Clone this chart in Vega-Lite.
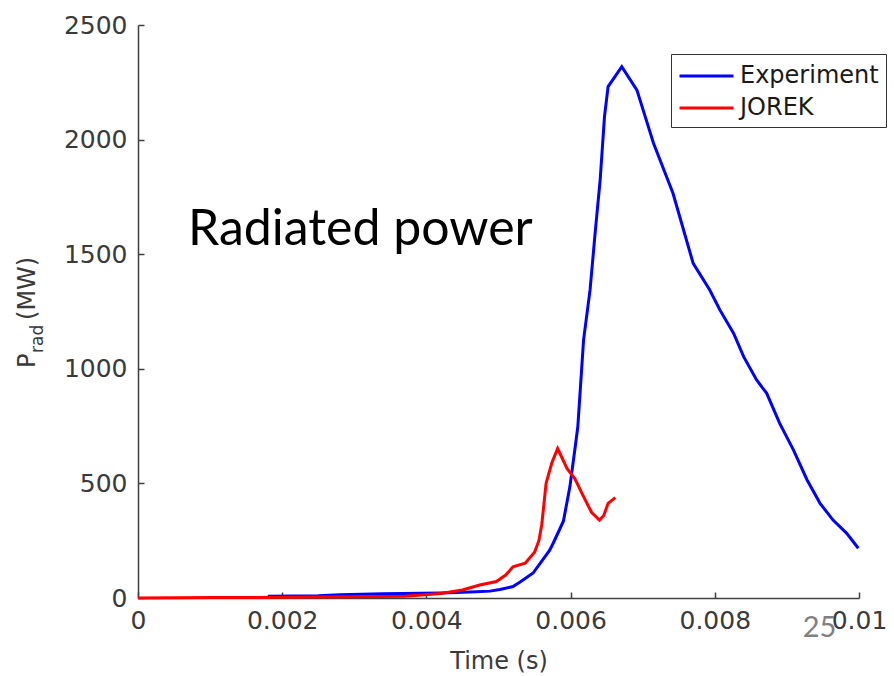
{
  "$schema": "https://vega.github.io/schema/vega-lite/v6.json",
  "width": 721,
  "height": 573,
  "autosize": "none",
  "padding": {"left": 138, "top": 25, "right": 35, "bottom": 78},
  "background": "white",
  "config": {
    "view": {"stroke": null},
    "axis": {
      "grid": false,
      "domainColor": "#404040",
      "domainWidth": 1.5,
      "tickColor": "#404040",
      "tickWidth": 1.5,
      "tickSize": -6,
      "labelFlush": false,
      "labelFont": "DejaVu Sans",
      "labelFontSize": 25,
      "labelColor": "#3a3a3a",
      "titleFont": "DejaVu Sans",
      "titleFontSize": 24,
      "titleFontWeight": "normal",
      "titleColor": "#3a3a3a"
    }
  },
  "datasets": {
    "one": [{"k": 1}],
    "series": [
      {"t": 0.0018, "p": 8, "s": "Experiment"},
      {"t": 0.0025, "p": 10, "s": "Experiment"},
      {"t": 0.0028, "p": 14, "s": "Experiment"},
      {"t": 0.0034, "p": 18, "s": "Experiment"},
      {"t": 0.0042, "p": 22, "s": "Experiment"},
      {"t": 0.0047, "p": 27, "s": "Experiment"},
      {"t": 0.00488, "p": 30, "s": "Experiment"},
      {"t": 0.00502, "p": 37, "s": "Experiment"},
      {"t": 0.0052, "p": 50, "s": "Experiment"},
      {"t": 0.0053, "p": 70, "s": "Experiment"},
      {"t": 0.00548, "p": 109, "s": "Experiment"},
      {"t": 0.00558, "p": 152, "s": "Experiment"},
      {"t": 0.00571, "p": 209, "s": "Experiment"},
      {"t": 0.00576, "p": 240, "s": "Experiment"},
      {"t": 0.0059, "p": 335, "s": "Experiment"},
      {"t": 0.00599, "p": 485, "s": "Experiment"},
      {"t": 0.00606, "p": 650, "s": "Experiment"},
      {"t": 0.0061, "p": 747, "s": "Experiment"},
      {"t": 0.00618, "p": 1126, "s": "Experiment"},
      {"t": 0.00627, "p": 1344, "s": "Experiment"},
      {"t": 0.00634, "p": 1592, "s": "Experiment"},
      {"t": 0.00641, "p": 1824, "s": "Experiment"},
      {"t": 0.00647, "p": 2100, "s": "Experiment"},
      {"t": 0.00652, "p": 2231, "s": "Experiment"},
      {"t": 0.00671, "p": 2318, "s": "Experiment"},
      {"t": 0.00692, "p": 2216, "s": "Experiment"},
      {"t": 0.00715, "p": 1984, "s": "Experiment"},
      {"t": 0.00742, "p": 1766, "s": "Experiment"},
      {"t": 0.0077, "p": 1460, "s": "Experiment"},
      {"t": 0.00793, "p": 1344, "s": "Experiment"},
      {"t": 0.00807, "p": 1257, "s": "Experiment"},
      {"t": 0.00826, "p": 1155, "s": "Experiment"},
      {"t": 0.0084, "p": 1053, "s": "Experiment"},
      {"t": 0.00858, "p": 951, "s": "Experiment"},
      {"t": 0.00872, "p": 893, "s": "Experiment"},
      {"t": 0.0089, "p": 762, "s": "Experiment"},
      {"t": 0.00909, "p": 646, "s": "Experiment"},
      {"t": 0.00928, "p": 515, "s": "Experiment"},
      {"t": 0.00946, "p": 413, "s": "Experiment"},
      {"t": 0.00964, "p": 340, "s": "Experiment"},
      {"t": 0.00983, "p": 282, "s": "Experiment"},
      {"t": 0.00999, "p": 217, "s": "Experiment"},
      {"t": 0.0, "p": 0, "s": "JOREK"},
      {"t": 0.001, "p": 2, "s": "JOREK"},
      {"t": 0.002, "p": 3, "s": "JOREK"},
      {"t": 0.003, "p": 5, "s": "JOREK"},
      {"t": 0.0037, "p": 8, "s": "JOREK"},
      {"t": 0.0042, "p": 20, "s": "JOREK"},
      {"t": 0.0045, "p": 35, "s": "JOREK"},
      {"t": 0.00474, "p": 57, "s": "JOREK"},
      {"t": 0.00497, "p": 72, "s": "JOREK"},
      {"t": 0.0051, "p": 100, "s": "JOREK"},
      {"t": 0.0052, "p": 136, "s": "JOREK"},
      {"t": 0.00537, "p": 152, "s": "JOREK"},
      {"t": 0.0055, "p": 200, "s": "JOREK"},
      {"t": 0.00556, "p": 250, "s": "JOREK"},
      {"t": 0.0056, "p": 320, "s": "JOREK"},
      {"t": 0.00566, "p": 500, "s": "JOREK"},
      {"t": 0.00574, "p": 590, "s": "JOREK"},
      {"t": 0.00582, "p": 652, "s": "JOREK"},
      {"t": 0.00595, "p": 565, "s": "JOREK"},
      {"t": 0.00606, "p": 520, "s": "JOREK"},
      {"t": 0.00618, "p": 442, "s": "JOREK"},
      {"t": 0.00629, "p": 374, "s": "JOREK"},
      {"t": 0.0064, "p": 340, "s": "JOREK"},
      {"t": 0.00646, "p": 360, "s": "JOREK"},
      {"t": 0.00652, "p": 413, "s": "JOREK"},
      {"t": 0.00662, "p": 438, "s": "JOREK"}
    ]
  },
  "layer": [
    {
      "data": {"name": "series"},
      "mark": {"type": "line", "strokeWidth": 3, "interpolate": "linear"},
      "encoding": {
        "x": {
          "field": "t", "type": "quantitative",
          "scale": {"domain": [0, 0.01], "nice": false, "zero": false},
          "axis": {"values": [0, 0.002, 0.004, 0.006, 0.008, 0.01], "format": "~g", "title": "Time (s)", "labelPadding": 16, "titlePadding": 16}
        },
        "y": {
          "field": "p", "type": "quantitative",
          "scale": {"domain": [0, 2500], "nice": false},
          "axis": {"values": [0, 500, 1000, 1500, 2000, 2500], "format": "d", "title": null, "labelPadding": 17}
        },
        "color": {
          "field": "s", "type": "nominal",
          "scale": {"domain": ["Experiment", "JOREK"], "range": ["#0000ff", "#ff0000"]},
          "legend": {
            "title": null,
            "orient": "none",
            "legendX": 533,
            "legendY": 29,
            "padding": 7,
            "strokeColor": "#333333",
            "fillColor": "white",
            "symbolType": "M-1,0H3",
            "symbolSize": 729,
            "symbolStrokeWidth": 3,
            "labelFont": "DejaVu Sans",
            "labelFontSize": 24,
            "labelColor": "#1a1a1a",
            "labelOffset": 32,
            "rowPadding": 5
          }
        }
      }
    },
    {
      "data": {"name": "one"},
      "mark": {"type": "text", "text": "Radiated power", "font": "Lato", "fontSize": 50, "color": "black", "align": "left", "baseline": "alphabetic", "clip": false},
      "encoding": {"x": {"datum": 0.000693}, "y": {"datum": 1540}}
    },
    {
      "data": {"name": "one"},
      "mark": {"type": "text", "text": "25", "font": "Lato", "fontSize": 29, "color": "#808080", "align": "left", "baseline": "alphabetic", "clip": false},
      "encoding": {"x": {"datum": 0.00922}, "y": {"datum": -170}}
    },
    {
      "data": {"name": "one"},
      "mark": {"type": "text", "text": "P", "font": "DejaVu Sans", "fontSize": 24, "color": "#3a3a3a", "angle": 270, "align": "left", "baseline": "alphabetic", "clip": false},
      "encoding": {"x": {"datum": -0.001429}, "y": {"datum": 1003}}
    },
    {
      "data": {"name": "one"},
      "mark": {"type": "text", "text": "rad", "font": "DejaVu Sans", "fontSize": 17, "color": "#3a3a3a", "angle": 270, "align": "left", "baseline": "alphabetic", "clip": false},
      "encoding": {"x": {"datum": -0.001318}, "y": {"datum": 1069}}
    },
    {
      "data": {"name": "one"},
      "mark": {"type": "text", "text": "(MW)", "font": "DejaVu Sans", "fontSize": 24, "color": "#3a3a3a", "angle": 270, "align": "left", "baseline": "alphabetic", "clip": false},
      "encoding": {"x": {"datum": -0.001429}, "y": {"datum": 1213}}
    }
  ]
}
